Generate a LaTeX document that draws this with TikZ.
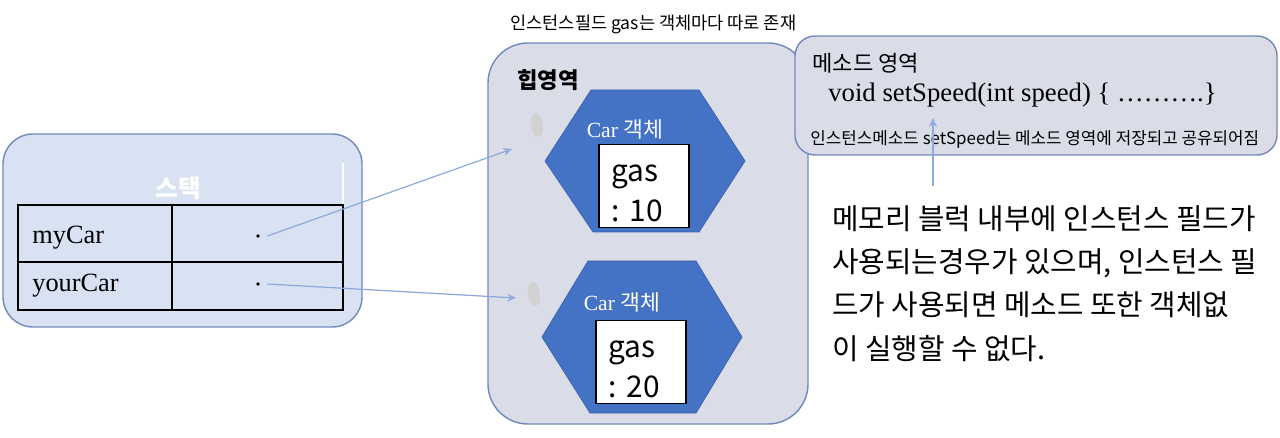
\documentclass[tikz,border=0pt]{standalone}
\usepackage{fontspec}
\setmainfont{Liberation Serif}
\newfontfamily\kr{Noto Sans CJK KR}
\usetikzlibrary{arrows.meta}
\definecolor{stackfill}{HTML}{D9E2F3}
\definecolor{areafill}{HTML}{DADDE8}
\definecolor{areaedge}{HTML}{7189BA}
\definecolor{objblue}{HTML}{4472C4}
\definecolor{ptrblue}{HTML}{8EA9DB}
\definecolor{blobgray}{HTML}{D2D2D2}
\tikzset{
  area/.style={draw=areaedge,line width=0.8pt,fill=areafill},
  ptr/.style={ptrblue,line width=0.7pt,-{Stealth[open,length=5pt,width=4.5pt]}},
  objhex/.style={fill=objblue,draw=objblue!85!black,line width=0.4pt},
  valbox/.style={draw=black,line width=0.8pt,fill=white,minimum width=1.8cm,minimum height=1.6cm,
    text width=1.3cm,align=left,font=\kr\fontsize{17}{22.5}\selectfont},
  note/.style={font=\kr\fontsize{10}{12}\selectfont,anchor=west,inner sep=0pt},
}
\begin{document}
\begin{tikzpicture}[x=0.02cm,y=-0.02cm]
\useasboundingbox (0,0) rectangle (1280,438);
% stack frame with the two references
\draw[area,fill=stackfill,rounded corners=0.6cm] (3,134) rectangle (362,327);
\draw[white,line width=0.8pt] (343,163) -- (343,205);
\node[font=\kr\bfseries\fontsize{14}{16}\selectfont,text=white] (stacktitle) at (178,188) {스택};
\draw[line width=0.8pt] (18,205) rectangle (343,310) (18,262) -- (343,262) (172,205) -- (172,310);
\node[anchor=west,font=\fontsize{15}{17}\selectfont,inner sep=0pt] (mycar) at (32,238) {myCar};
\node[anchor=west,font=\fontsize{15}{17}\selectfont,inner sep=0pt] (yourcar) at (32,286) {yourCar};
\node[circle,fill,inner sep=0.8pt] (mydot) at (258,236) {};
\node[circle,fill,inner sep=0.8pt] (yourdot) at (258,284) {};
% heap area
\draw[area,rounded corners=0.8cm] (488,43) rectangle (808,424);
\node[font=\kr\bfseries\fontsize{12.7}{15}\selectfont] (heaptitle) at (548,80) {힙영역};
\node[note] (fieldnote) at (510,24) {인스턴스필드 gas는 객체마다 따로 존재};
\foreach \n/\cx/\cy/\hh/\bx/\val in {1/645/161/71/644/10,2/642/337/76/641/20} {
  \draw[objhex] (\cx-100,\cy) -- (\cx-54,\cy-\hh) -- (\cx+54,\cy-\hh) -- (\cx+100,\cy)
    -- (\cx+54,\cy+\hh) -- (\cx-52,\cy+\hh) -- cycle;
  \fill[blobgray,rotate around={8:(\cx-108,\cy-29-\n*7)}] (\cx-108,\cy-29-\n*7) ellipse (6 and 12);
  \node[text=white,font=\fontsize{12.3}{14}\selectfont] (carlabel\n) at (\cx-20,\cy-29-\n*3) {Car {\kr 객체}};
  \node[valbox] (gasbox\n) at (\bx,\cy+25) {\rule{0pt}{18pt}gas\\:~\val};
}
\coordinate (heapin1) at (512,149);
\coordinate (heapin2) at (516,298);
\draw[ptr] ([xshift=4pt]mydot.east) -- (heapin1);
\draw[ptr] ([xshift=4pt]yourdot.east) -- (heapin2);
% method area
\draw[area,rounded corners=0.4cm] (795,36) rectangle (1277,155);
\node[anchor=west,inner sep=0pt,font=\kr\fontsize{12.6}{15}\selectfont] (methodtitle) at (812,63) {메소드 영역};
\node[anchor=west,inner sep=0pt,font=\fontsize{15.2}{17}\selectfont] (setspeed) at (828,95) {void setSpeed(int speed) \{ ……….\}};
\node[note,font=\kr\fontsize{9.6}{12}\selectfont] (methodnote) at (810,139) {인스턴스메소드 setSpeed는 메소드 영역에 저장되고 공유되어짐};
% explanation
\node[anchor=north west,inner sep=0pt,align=left,font=\kr\fontsize{16.4}{24.7}\selectfont] (info) at (832,205)
  {메모리 블럭 내부에 인스턴스 필드가\\사용되는경우가 있으며, 인스턴스 필\\드가 사용되면 메소드 또한 객체없\\이 실행할 수 없다.};
\coordinate (infotop) at (933,186);
\coordinate (speedtip) at (933,118);
\draw[ptr] (infotop) -- (speedtip);
\end{tikzpicture}
\end{document}
